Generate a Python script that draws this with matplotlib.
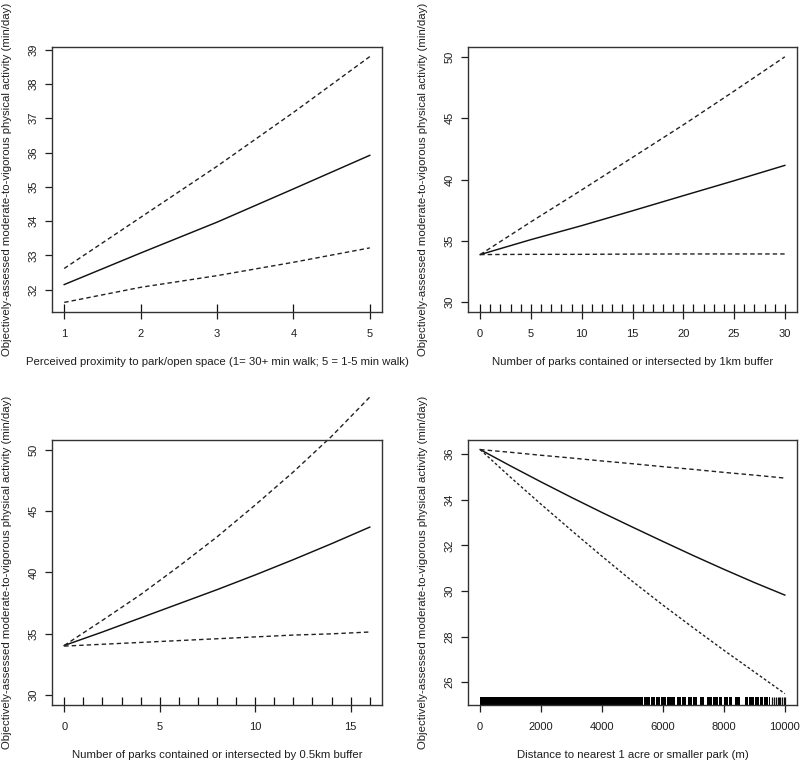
import matplotlib
matplotlib.use("Agg")
import matplotlib.pyplot as plt
import numpy as np

plt.rcParams['font.family'] = ['Liberation Sans', 'DejaVu Sans']

# ---- data ----
# panel 1: perceived proximity
p1_x = [1, 2, 3, 4, 5]
p1_fit = [32.15, 33.07, 33.97, 34.94, 35.92]
p1_up = [32.62, 34.11, 35.60, 37.17, 38.80]
p1_lo = [31.63, 32.07, 32.41, 32.80, 33.22]
p1_rug = [1, 2, 3, 4, 5]

# panel 2: parks in 1km buffer
p2_x = [0, 5, 10, 15, 20, 25, 30]
p2_fit = [33.88, 35.1, 36.24, 37.45, 38.68, 39.9, 41.15]
p2_up = [33.88, 36.55, 39.15, 41.8, 44.45, 47.2, 50.0]
p2_lo = [33.88, 33.9, 33.9, 33.92, 33.93, 33.93, 33.93]
p2_rug = list(range(0, 31))

# panel 3: parks in 0.5km buffer
p3_x = [0, 2, 4, 6, 8, 10, 12, 14, 16]
p3_fit = [34.05, 35.15, 36.3, 37.45, 38.6, 39.8, 41.05, 42.35, 43.7]
p3_up = [34.05, 36.1, 38.2, 40.5, 42.9, 45.5, 48.2, 51.1, 54.3]
p3_lo = [34.0, 34.15, 34.3, 34.45, 34.6, 34.75, 34.9, 35.0, 35.15]
p3_rug = list(range(0, 17))

# panel 4: distance to nearest small park
p4_x = [0, 1000, 2000, 3000, 4000, 5000, 6000, 7000, 8000, 9000, 10000]
p4_fit = [36.2, 35.48, 34.78, 34.10, 33.44, 32.80, 32.17, 31.55, 30.95, 30.37, 29.82]
p4_up = [36.2, 36.08, 35.95, 35.83, 35.7, 35.58, 35.45, 35.33, 35.2, 35.08, 34.95]
p4_lo = [36.2, 34.98, 33.8, 32.65, 31.52, 30.42, 29.38, 28.38, 27.4, 26.45, 25.5]
p4_rug_bands = [(0, 5350), (5390, 5560), (5600, 5750), (5780, 5900), (5950, 6100),
                (6130, 6380), (6460, 6600), (6630, 6740), (6830, 6950), (6990, 7120),
                (7230, 7340), (7430, 7600), (7640, 7800), (7830, 7940), (8020, 8150),
                (8180, 8270), (8350, 8540), (8680, 8800), (8840, 8980), (9010, 9150),
                (9180, 9300), (9330, 9450), (9480, 9530)]
p4_rug_ticks = [9590, 9640, 9700, 9760, 9800, 9850, 9900, 9960, 10000]

ylab = "Objectively-assessed moderate-to-vigorous physical activity (min/day)"

TXT = "#1e1e1e"


def style_ax(ax, xticks, yticks, xlim, ylim, xlabel, w_px, h_px):
    ax.set_xlim(*xlim)
    ax.set_ylim(*ylim)
    ax.set_xticks(xticks)
    ax.set_yticks(yticks)
    ax.set_xticklabels([str(t) for t in xticks])
    ax.set_yticklabels([str(t) for t in yticks], rotation=90, va="center")
    ax.tick_params(direction="out", length=4.8, width=0.9, colors=TXT,
                   labelsize=8, labelcolor=TXT)
    ax.tick_params(axis="x", pad=7.5)
    ax.tick_params(axis="y", pad=5)
    for s in ax.spines.values():
        s.set_linewidth(1.0)
        s.set_color("#333333")
    ax.set_xlabel(xlabel, fontsize=8.2, color=TXT, va="center")
    ax.set_ylabel(ylab, fontsize=8.2, color=TXT, va="center")
    ax.xaxis.set_label_coords(0.5, -50 / h_px)
    ax.yaxis.set_label_coords(-45 / w_px, 0.5)


def draw_lines(ax, x, fit, up, lo, lo_dash=(3.2, 2.2), clip=True):
    ax.plot(x, fit, color="#111111", lw=1.05, clip_on=clip)
    ax.plot(x, up, color="#222222", lw=1.0, dashes=(3.2, 2.2), clip_on=clip)
    ax.plot(x, lo, color="#222222", lw=1.0, dashes=lo_dash, clip_on=clip)


def draw_rug(ax, pos):
    ax.vlines(pos, 0, 0.03, color="#111111", lw=0.9,
              transform=ax.get_xaxis_transform())


W, H = 800, 763
fig = plt.figure(figsize=(W / 100, H / 100), dpi=100)

ax1 = fig.add_axes([52 / W, 1 - 312 / H, 330 / W, 265 / H])
ax2 = fig.add_axes([468 / W, 1 - 312 / H, 329 / W, 265 / H])
ax3 = fig.add_axes([52 / W, 1 - 705 / H, 330 / W, 265 / H])
ax4 = fig.add_axes([468 / W, 1 - 705 / H, 329 / W, 265 / H])

# panel 1
draw_lines(ax1, p1_x, p1_fit, p1_up, p1_lo)
draw_rug(ax1, p1_rug)
style_ax(ax1, [1, 2, 3, 4, 5], list(range(32, 40)), (0.84, 5.16), (31.35, 39.08),
         "Perceived proximity to park/open space (1= 30+ min walk; 5 = 1-5 min walk)",
         330, 265)

# panel 2
draw_lines(ax2, p2_x, p2_fit, p2_up, p2_lo)
draw_rug(ax2, p2_rug)
style_ax(ax2, [0, 5, 10, 15, 20, 25, 30], [30, 35, 40, 45, 50], (-1.2, 31.2), (29.2, 50.8),
         "Number of parks contained or intersected by 1km buffer", 329, 265)

# panel 3 (upper band runs past the top of the box)
draw_lines(ax3, p3_x, p3_fit, p3_up, p3_lo, clip=False)
draw_rug(ax3, p3_rug)
style_ax(ax3, [0, 5, 10, 15], [30, 35, 40, 45, 50], (-0.64, 16.64), (29.2, 50.8),
         "Number of parks contained or intersected by 0.5km buffer", 330, 265)

# panel 4
draw_lines(ax4, p4_x, p4_fit, p4_up, p4_lo, lo_dash=(2.0, 1.6))
for a, b in p4_rug_bands:
    ax4.axvspan(a, b, ymin=0, ymax=0.03, color="#000000", lw=0)
draw_rug(ax4, p4_rug_ticks)
style_ax(ax4, [0, 2000, 4000, 6000, 8000, 10000], [26, 28, 30, 32, 34, 36],
         (-400, 10400), (25.0, 36.62),
         "Distance to nearest 1 acre or smaller park (m)", 329, 265)

fig.savefig("out.png", dpi=100)
